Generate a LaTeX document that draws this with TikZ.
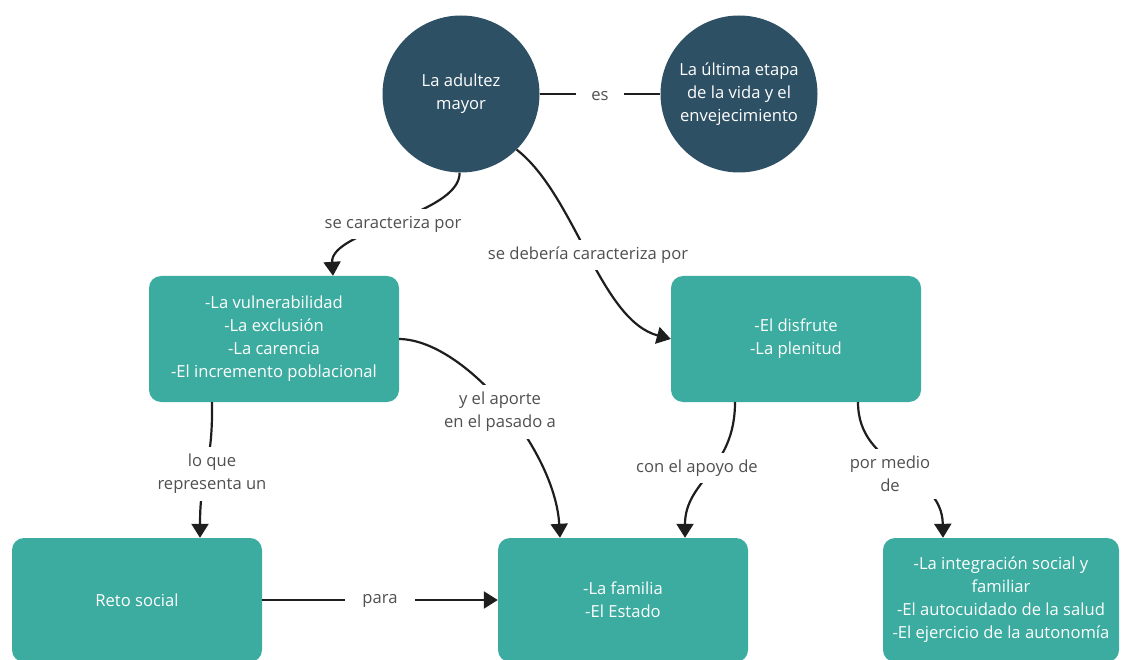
\documentclass[tikz,border=0pt]{standalone}
\usepackage{fontspec}
\setmainfont{Open Sans}
\usetikzlibrary{arrows.meta}
\definecolor{circcol}{HTML}{2E5064}
\definecolor{boxteal}{HTML}{3BAC9F}
\definecolor{labgray}{HTML}{505050}
\definecolor{linecol}{HTML}{1E1E1E}
\tikzset{
  circnode/.style={circle, fill=circcol, minimum size=157pt, inner sep=0pt, text=white, align=center, font=\fontsize{16.6}{23}\selectfont},
  boxnode/.style={rectangle, rounded corners=12pt, fill=boxteal, minimum width=250pt, minimum height=126pt, inner sep=0pt, text=white, align=center, font=\fontsize{16.6}{23}\selectfont},
  lab/.style={fill=white, text=labgray, align=center, inner xsep=9pt, inner ysep=7pt, font=\fontsize{16.6}{23}\selectfont},
  conn/.style={line width=2.2pt, draw=linecol},
  arr/.style={conn, -{Triangle[width=17pt,length=14pt]}}
}
\begin{document}
\begin{tikzpicture}[x=1pt,y=-1pt]
\useasboundingbox (0,0) rectangle (1124,660);
% nodes
\node[circnode] (ad) at (461,94) {La adultez\\mayor};
\node[circnode] (fin) at (739,94) {La última etapa\\de la vida y el\\envejecimiento};
\node[boxnode] (va) at (274,339) {-La vulnerabilidad\\-La exclusión\\-La carencia\\-El incremento poblacional};
\node[boxnode] (vb) at (796,339) {-El disfrute\\-La plenitud};
\node[boxnode, minimum height=124pt] (rs) at (137,600) {Reto social};
\node[boxnode, minimum height=124pt] (vd) at (623,600) {-La familia\\-El Estado};
\node[boxnode, minimum height=124pt, minimum width=236pt] (ve) at (1001,600) {-La integración social y\\familiar\\-El autocuidado de la salud\\-El ejercicio de la autonomía};
% connectors
\draw[conn] (ad.east) -- (fin.west);
\draw[arr] (ad.-91) .. controls (460,215) and (330,230) .. ([xshift=59pt]va.north);
\draw[arr] (ad.-45) .. controls (575,195) and (600,320) .. (vb.west);
\draw[arr] (va.east) .. controls (465,340) and (555,450) .. ([xshift=-63pt]vd.north);
\draw[arr] ([xshift=-62pt]va.south) .. controls (213,470) and (200,470) .. ([xshift=63pt]rs.north);
\draw[arr] ([xshift=-61pt]vb.south) .. controls (735,470) and (685,480) .. ([xshift=62pt]vd.north);
\draw[arr] ([xshift=62pt]vb.south) .. controls (858,470) and (942,470) .. ([xshift=-58pt]ve.north);
\draw[arr] (rs.east) -- (vd.west);
% labels
\node[lab, inner xsep=15pt] (l0) at (600,96) {es};
\node[lab] (l1) at (393,224) {se caracteriza por};
\node[lab] (l2) at (588,255) {se debería caracteriza por};
\node[lab] (l3) at (500,412) {y el aporte\\en el pasado a};
\node[lab] (l4) at (212,474) {lo que\\representa un};
\node[lab] (l5) at (697,468) {con el apoyo de};
\node[lab] (l6) at (890,474) {por medio\\de};
\node[lab, inner xsep=17pt] (l7) at (380,601) {para};
\end{tikzpicture}
\end{document}
